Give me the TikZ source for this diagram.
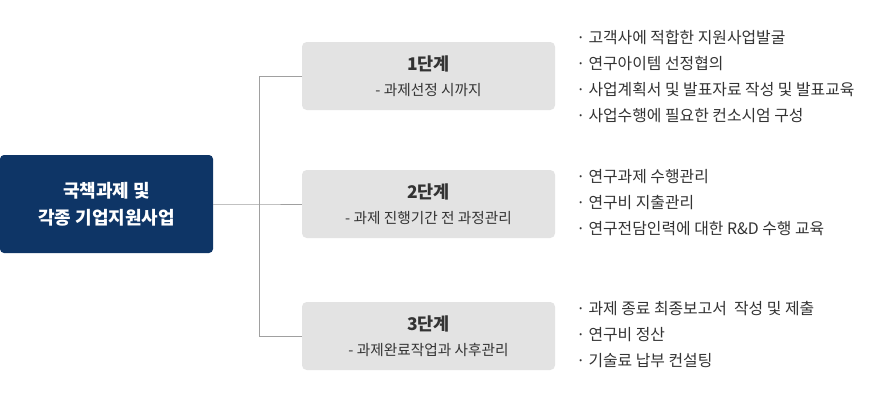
\documentclass[tikz,border=0pt]{standalone}
\usepackage{fontspec}
\setmainfont{Noto Sans CJK KR}
\usepackage{xcolor}
\usepackage{tikz}
\definecolor{navy}{HTML}{0E3566}
\definecolor{boxgray}{HTML}{E3E3E3}
\definecolor{linegray}{HTML}{A0A0A0}
\definecolor{txtgray}{HTML}{333333}
\newcommand{\bul}{\makebox[9.2pt][l]{·}}

\begin{document}
\begin{tikzpicture}[x=0.75pt,y=-0.75pt,
		mainbox/.style={fill=navy,rounded corners=3pt,inner sep=0pt,outer sep=0pt,
			minimum width=159.75pt,minimum height=73.5pt,text=white,align=center,
			font=\fontsize{13.5}{20.25}\selectfont\bfseries},
		stagebox/.style={fill=boxgray,rounded corners=3.5pt,inner sep=0pt,outer sep=0pt,
			minimum width=189.75pt,minimum height=51pt},
		stitle/.style={inner sep=0pt,text=txtgray,font=\fontsize{13.1}{15}\selectfont\bfseries},
		ssub/.style={inner sep=0pt,text=txtgray,font=\fontsize{11}{13}\selectfont},
		item/.style={anchor=west,inner sep=0pt,text=txtgray,font=\fontsize{11.9}{14}\selectfont},
		conn/.style={draw=linegray,line width=0.75pt}]
		\useasboundingbox (0,0) rectangle (890,414);
		% 왼쪽 상자
		\node[mainbox] (main) at (106.5,204) {국책과제 및\\각종 기업지원사업};
		% 단계 상자
		\foreach \i/\y/\sub in {1/76/{- 과제선정 시까지},2/204/{- 과제 진행기간 전 과정관리},3/336/{- 과제완료작업과 사후관리}} {
		\node[stagebox] (s\i) at (428.5,\y) {};
		\node[stitle] (s\i t) at (428.5,\y-12) {\i{}단계};
		\node[ssub] (s\i s) at (428.5,\y+14) {\sub};}
		% 연결선
		\coordinate (j) at (259.5,204);
		\draw[conn] (main.east) -- (j) -- (s2.west);
		\draw[conn] (s1.west) -| (j) |- (s3.west);
		% 세부 항목
		\foreach \t [count=\k] in {고객사에 적합한 지원사업발굴,연구아이템 선정협의,사업계획서 및 발표자료 작성 및 발표교육,사업수행에 필요한 컨소시엄 구성}
			\node[item] (a\k) at (576,{37+26.3*(\k-1)}) {\bul\t};
		\foreach \t [count=\k] in {연구과제 수행관리,연구비 지출관리,연구전담인력에 대한 R\&D 수행 교육}
			\node[item] (b\k) at (576,{177+25.7*(\k-1)}) {\bul\t};
		\foreach \t [count=\k] in {과제 종료 최종보고서\ \ 작성 및 제출,연구비 정산,기술료 납부 컨설팅}
			\node[item] (c\k) at (576,{309+26*(\k-1)}) {\bul\t};
	\end{tikzpicture}
\end{document}
